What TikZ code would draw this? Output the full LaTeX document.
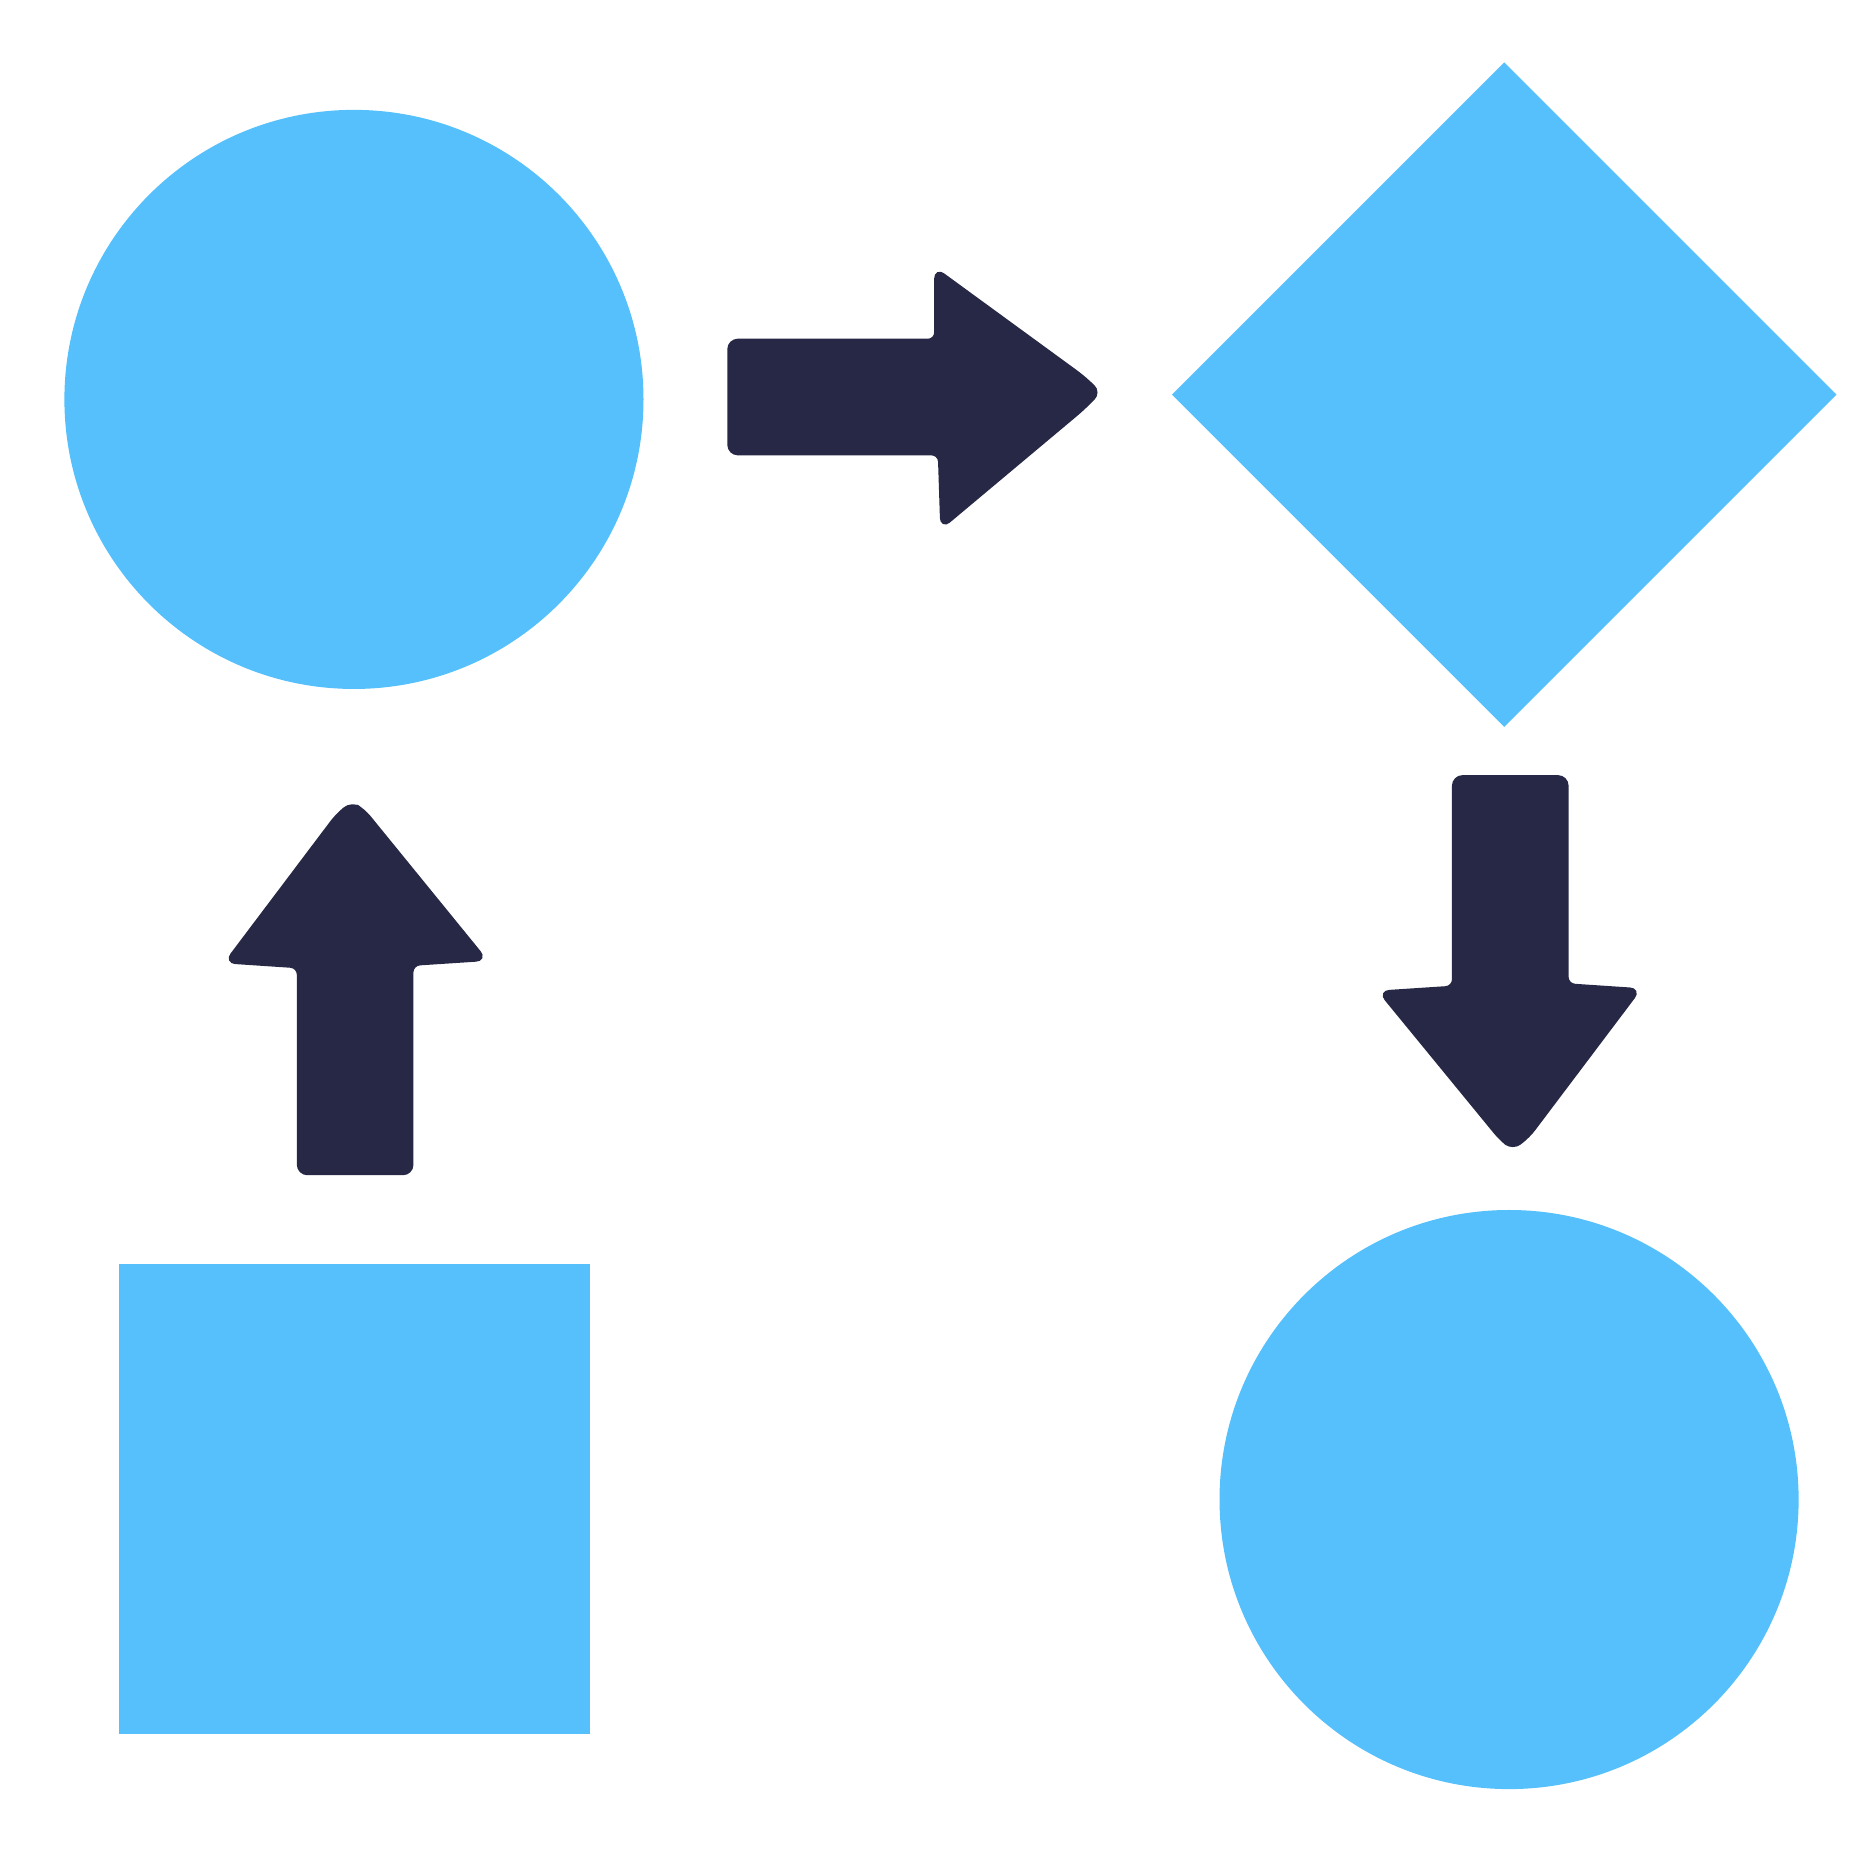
\documentclass[tikz,border=0pt]{standalone}
\usetikzlibrary{shapes.geometric}
\definecolor{sky}{HTML}{55C0FB}
\definecolor{ink}{HTML}{272846}
\tikzset{blob/.style={fill=sky,draw=none,inner sep=0pt},
  blockarrow/.style={fill=ink,draw=ink,line width=1pt,rounded corners=2pt}}
\begin{document}
\begin{tikzpicture}[x=0.01cm,y=-0.01cm]
\useasboundingbox (0,0) rectangle (1568,1568);
\node[blob,circle,minimum size=4.84cm] (start) at (296,334) {};
\node[blob,diamond,minimum size=5.56cm] (check) at (1258,330) {};
\node[blob,circle,minimum size=4.84cm] (next) at (1262,1254) {};
\node[blob,rectangle,minimum size=3.93cm] (box) at (296.5,1253.5) {};
% right arrow
\draw[blockarrow] (610,285) -- (783,285) -- (783,226) -- (905,315) -- (919,328) -- (905,342) -- (788,440) -- (786,379) -- (610,379) -- cycle;
% down arrow
\draw[blockarrow] (1216,650) -- (1310,650) -- (1310,824) -- (1370,828) -- (1278,950) -- (1265,960) -- (1255,952) -- (1155,830) -- (1216,826) -- cycle;
% up arrow
\draw[blockarrow] (250,981) -- (344,981) -- (344,806) -- (405,802) -- (304,678) -- (294,672) -- (282,682) -- (190,804) -- (250,808) -- cycle;
\end{tikzpicture}
\end{document}
